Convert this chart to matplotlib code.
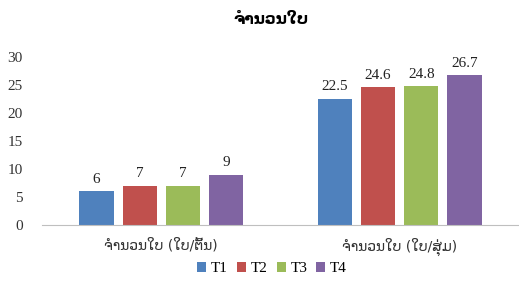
import matplotlib
matplotlib.use("Agg")
import matplotlib.pyplot as plt
import numpy as np

categories = ["ຈຳນວນໃບ (ໃບ/ຕົ້ນ)", "ຈຳນວນໃບ (ໃບ/ສຸ່ມ)"]
series = ["T1", "T2", "T3", "T4"]
values = {
    "T1": [6, 22.5],
    "T2": [7, 24.6],
    "T3": [7, 24.8],
    "T4": [9, 26.7],
}
labels = {
    "T1": ["6", "22.5"],
    "T2": ["7", "24.6"],
    "T3": ["7", "24.8"],
    "T4": ["9", "26.7"],
}
colors = ["#4F81BD", "#C0504D", "#9BBB59", "#8064A2"]

serif = ["Liberation Serif", "DejaVu Sans"]
lao = ["DejaVu Sans", "Liberation Serif"]

fig = plt.figure(figsize=(5.19, 2.95), dpi=100)
ax = fig.add_axes([0.081, 0.237, 0.919, 0.570])

x = np.arange(len(categories))
width = 0.143
step = 0.181
for i, s in enumerate(series):
    pos = x + (i - 1.5) * step
    bars = ax.bar(pos, values[s], width, color=colors[i], label=s)
    for b, t in zip(bars, labels[s]):
        ax.annotate(t, (b.get_x() + b.get_width() / 2, b.get_height()),
                    xytext=(0, 4), textcoords="offset points",
                    ha="center", va="bottom", fontsize=11, family=serif,
                    color="#222222")

ax.set_xlim(-0.5, 1.5)
ax.set_ylim(0, 30)
ax.set_yticks(range(0, 31, 5))
ax.set_xticks(x)
ax.set_xticklabels(categories, family=lao, fontsize=10, color="#333333")
for lbl in ax.get_yticklabels():
    lbl.set_family(serif)
    lbl.set_fontsize(11)
    lbl.set_color("#333333")
ax.tick_params(axis="x", length=0, pad=9)
ax.tick_params(axis="y", length=0, pad=14)
for sp in ["top", "right", "left"]:
    ax.spines[sp].set_visible(False)
ax.spines["bottom"].set_color("#BFBFBF")

fig.text(0.522, 0.935, "ຈຳນວນໃບ", ha="center", va="center",
         fontsize=11, fontweight="bold", family=lao)

leg = fig.legend(loc="center", bbox_to_anchor=(0.524, 0.09), ncol=4,
                 frameon=False, handlelength=0.6, handleheight=0.6,
                 handletextpad=0.3, columnspacing=0.6,
                 prop={"family": serif, "size": 11})

fig.savefig("out.png", dpi=100)
